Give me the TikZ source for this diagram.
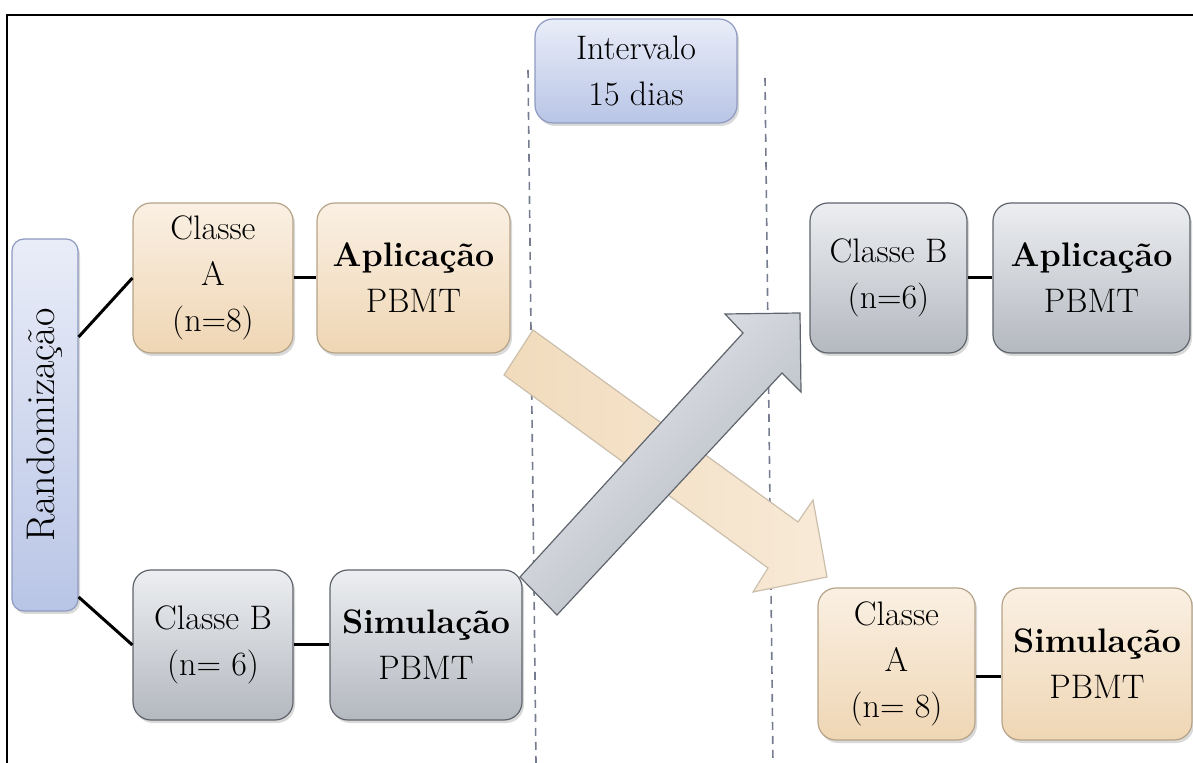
\documentclass[tikz,border=0pt]{standalone}
\usepackage{graphicx}
\usetikzlibrary{shadows}

\definecolor{peachtop}{HTML}{FAF0E3}
\definecolor{peachbot}{HTML}{EFD6B4}
\definecolor{peachline}{HTML}{B5A388}
\definecolor{greytop}{HTML}{ECEEF1}
\definecolor{greybot}{HTML}{B4B8BF}
\definecolor{greyline}{HTML}{5F646C}
\definecolor{bluetop}{HTML}{E9EDF8}
\definecolor{bluebot}{HTML}{B9C5E6}
\definecolor{blueline}{HTML}{8E9AC0}
\definecolor{sepcol}{HTML}{767C90}
\definecolor{arrowpeach}{HTML}{F1DBBC}
\definecolor{arrowpeachtip}{HTML}{F8EAD7}
\definecolor{arrowgreytop}{HTML}{EBEEF2}
\definecolor{arrowgreybot}{HTML}{ADB2BA}

\tikzset{
	box/.style={rounded corners=9pt, minimum height=75pt, align=center,
		font=\fontsize{17}{23}\selectfont, line width=0.6pt,
		drop shadow={opacity=0.3, shadow xshift=1pt, shadow yshift=-1.5pt}},
	peachbox/.style={box, draw=peachline, top color=peachtop, bottom color=peachbot},
	greybox/.style={box, draw=greyline, top color=greytop, bottom color=greybot},
	bluebox/.style={box, draw=blueline, top color=bluetop, bottom color=bluebot},
	link/.style={line width=1.5pt},
	sep/.style={dash pattern=on 4pt off 3pt, line width=0.8pt, draw=sepcol}
}

\begin{document}
\begin{tikzpicture}[x=0.5pt, y=-0.5pt]

	\useasboundingbox (0,0) rectangle (1193,763);

	% frame
	\draw[line width=1.3pt] (1193,15) -- (7,15) -- (7,763);

	% separators
	\draw[sep] (528,70) -- (536,763);
	\draw[sep] (765,78) -- (773,763);

	% interval
	\node[bluebox, minimum width=101pt, minimum height=52pt] (interv) at (636,71) {Intervalo\\15 dias};

	% randomization
	\node[bluebox, rounded corners=6pt, minimum width=33pt, minimum height=186pt] (rand) at (45,425)
		{\rotatebox{90}{\fontsize{20}{23}\selectfont Randomização}};

	% first period
	\node[peachbox, minimum width=80pt] (ca1) at (213,278) {Classe\\A\\(n=8)};
	\node[peachbox, minimum width=96.5pt] (ap1) at (413.5,278) {\textbf{Aplicação}\\PBMT};
	\node[greybox, minimum width=80pt] (cb1) at (213,645) {Classe B\\(n= 6)};
	\node[greybox, minimum width=96pt] (sim1) at (426,645) {\textbf{Simulação}\\PBMT};

	% second period
	\node[greybox, minimum width=78.5pt] (cb2) at (888.5,278) {Classe B\\(n=6)};
	\node[greybox, minimum width=98.5pt] (ap2) at (1091.5,278) {\textbf{Aplicação}\\PBMT};
	\node[peachbox, minimum width=78.5pt, minimum height=76pt] (ca2) at (896.5,664) {Classe\\A\\(n= 8)};
	\node[peachbox, minimum width=95pt, minimum height=76pt] (sim2) at (1097,664) {\textbf{Simulação}\\PBMT};

	% links
	\draw[link] ([yshift=44pt]rand.east) -- (ca1.west);
	\draw[link] ([yshift=-86pt]rand.east) -- (cb1.west);
	\draw[link] (ca1.east) -- (ap1.west);
	\draw[link] (cb1.east) -- (sim1.west);
	\draw[link] (cb2.east) -- (ap2.west);
	\draw[link] ([yshift=-6pt]ca2.east) -- ([yshift=-6pt]sim2.west);

	% crossing arrows
	\path[draw=peachline!70, line width=0.6pt, left color=arrowpeach, right color=arrowpeachtip]
		(533,330) -- (798,522) -- (813,500) -- (827,577) -- (753,592) -- (768,568) -- (504,375) -- cycle;
	\path[draw=greyline, line width=0.6pt, top color=arrowgreytop, bottom color=arrowgreybot, shading angle=45]
		(520,577) -- (743,333) -- (725,314) -- (800,313) -- (801,392) -- (782,373) -- (557,615) -- cycle;

\end{tikzpicture}
\end{document}
